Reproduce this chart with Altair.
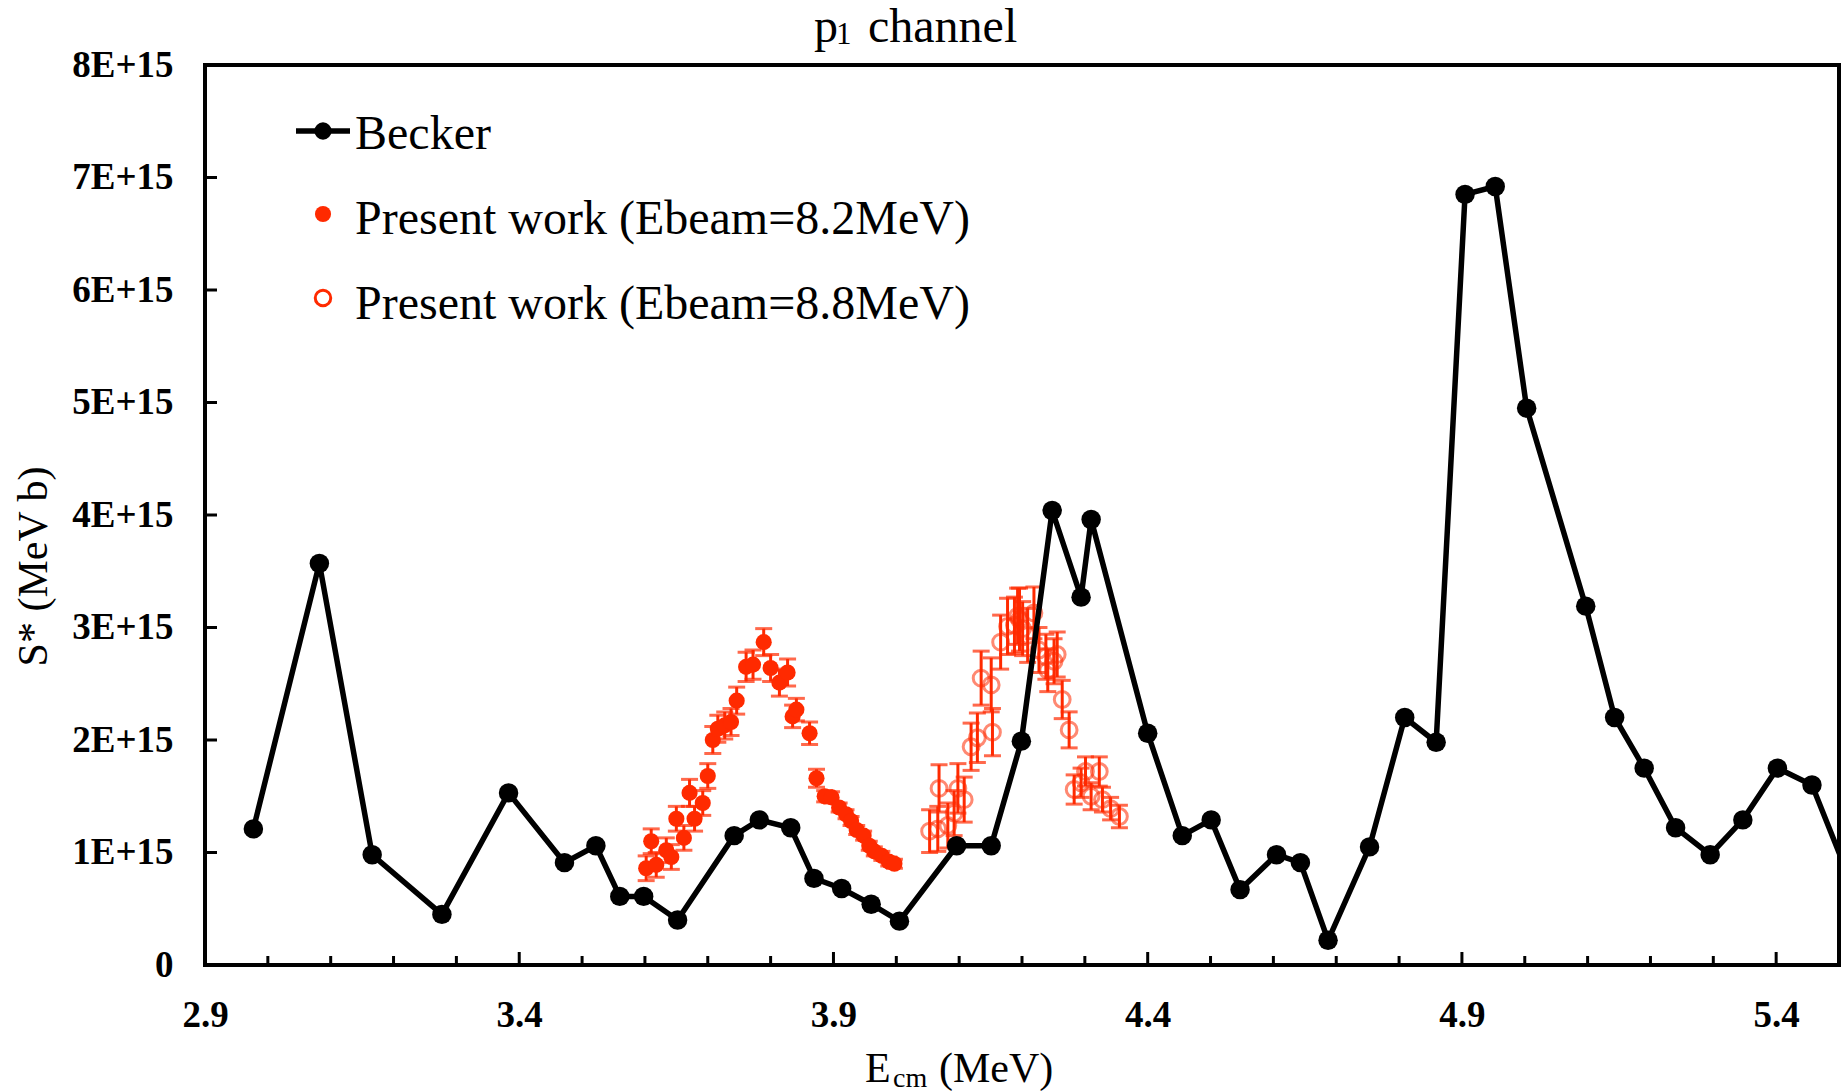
import altair as alt
import pandas as pd

# ---------------- data ----------------
becker_x = [2.977, 3.082, 3.166, 3.277, 3.383, 3.472, 3.522, 3.560, 3.598, 3.652,
            3.742, 3.782, 3.832, 3.869, 3.913, 3.960, 4.005, 4.096, 4.151, 4.199,
            4.248, 4.294, 4.310, 4.400, 4.455, 4.501, 4.547, 4.605, 4.643, 4.687,
            4.753, 4.809, 4.859, 4.905, 4.953, 5.003, 5.097, 5.143, 5.190, 5.240,
            5.295, 5.347, 5.402, 5.457, 5.530]
becker_y = [1.21, 3.57, 0.98, 0.45, 1.53, 0.91, 1.06, 0.61, 0.61, 0.40,
            1.15, 1.29, 1.22, 0.77, 0.68, 0.54, 0.39, 1.06, 1.06, 1.99,
            4.04, 3.27, 3.96, 2.06, 1.15, 1.29, 0.67, 0.98, 0.91, 0.22,
            1.05, 2.20, 1.98, 6.85, 6.92, 4.95, 3.19, 2.20, 1.75, 1.22,
            0.98, 1.29, 1.75, 1.60, 0.58]

w82_x = [3.602, 3.610, 3.618, 3.634, 3.642, 3.650, 3.662, 3.671, 3.679, 3.692,
         3.700, 3.708, 3.716, 3.727, 3.737, 3.746, 3.761, 3.772, 3.789, 3.800,
         3.814, 3.827, 3.835, 3.841, 3.862, 3.873, 3.886, 3.897, 3.909, 3.920,
         3.928, 3.937, 3.948, 3.957, 3.965, 3.977, 3.988, 3.997]
w82_y = [0.86, 1.10, 0.89, 1.02, 0.96, 1.30, 1.13, 1.53, 1.30, 1.44,
         1.68, 2.00, 2.10, 2.13, 2.16, 2.35, 2.65, 2.67, 2.87, 2.64,
         2.51, 2.60, 2.21, 2.27, 2.06, 1.66, 1.50, 1.49, 1.40, 1.34,
         1.28, 1.20, 1.15, 1.06, 1.01, 0.97, 0.92, 0.90]
w82_err = [0.11, 0.11, 0.11, 0.11, 0.11, 0.11, 0.11, 0.12, 0.11, 0.11,
           0.11, 0.12, 0.12, 0.12, 0.12, 0.12, 0.13, 0.13, 0.12, 0.12,
           0.12, 0.12, 0.10, 0.10, 0.10, 0.08, 0.05, 0.05, 0.04, 0.04,
           0.04, 0.04, 0.04, 0.04, 0.04, 0.04, 0.04, 0.04]

w88_x = [4.053, 4.066, 4.068, 4.082, 4.092, 4.098, 4.108, 4.119, 4.129, 4.135,
         4.151, 4.153, 4.166, 4.177, 4.188, 4.193, 4.196, 4.201, 4.209, 4.219,
         4.227, 4.238, 4.241, 4.251, 4.256, 4.264, 4.275, 4.283, 4.294, 4.301,
         4.310, 4.323, 4.328, 4.341, 4.355]
w88_y = [1.19, 1.21, 1.57, 1.24, 1.35, 1.57, 1.47, 1.94, 2.02, 2.55,
         2.49, 2.07, 2.87, 3.01, 3.02, 3.10, 3.07, 2.99, 2.93, 3.13,
         2.80, 2.74, 2.62, 2.70, 2.76, 2.36, 2.09, 1.56, 1.62, 1.72,
         1.50, 1.72, 1.47, 1.39, 1.32]
w88_err = [0.19, 0.20, 0.21, 0.20, 0.20, 0.22, 0.20, 0.21, 0.22, 0.24,
           0.24, 0.21, 0.24, 0.25, 0.25, 0.25, 0.28, 0.24, 0.24, 0.23,
           0.20, 0.20, 0.19, 0.20, 0.20, 0.17, 0.16, 0.13, 0.13, 0.13,
           0.12, 0.13, 0.11, 0.10, 0.10]

x_major_ticks = [2.9, 3.4, 3.9, 4.4, 4.9, 5.4]
x_minor_ticks = [3.0, 3.1, 3.2, 3.3, 3.5, 3.6, 3.7, 3.8, 4.0, 4.1, 4.2, 4.3,
                 4.5, 4.6, 4.7, 4.8, 5.0, 5.1, 5.2, 5.3]
y_major_ticks = [0, 1, 2, 3, 4, 5, 6, 7, 8]

legend_labels = ["Becker", "Present work (Ebeam=8.2MeV)", "Present work (Ebeam=8.8MeV)"]
title_parts = ["p", "1", "channel"]
xtitle_parts = ["E", "cm", "(MeV)"]
ytitle = "S* (MeV b)"

# ---------------- style ----------------
W, H = 1634, 900
RED = "#ff2a00"
SERIF = "Liberation Serif"

xscale = alt.Scale(domain=[2.9, 5.5], nice=False, zero=False)
yscale = alt.Scale(domain=[0, 8], nice=False, zero=True)
xaxis = alt.Axis(values=x_major_ticks, format=".1f", labelFont=SERIF, labelFontSize=37,
                 labelFontWeight="bold", labelColor="black", labelPadding=32,
                 labelFlush=False, ticks=False, domain=False, grid=False, title=None)
yaxis = alt.Axis(values=y_major_ticks,
                 labelExpr="datum.value == 0 ? '0' : datum.value + 'E+15'",
                 labelFont=SERIF, labelFontSize=37, labelFontWeight="bold",
                 labelColor="black", labelPadding=32, labelFlush=False,
                 ticks=False, domain=False, grid=False,
                 title=ytitle, titleFont=SERIF, titleFontSize=42, titleFontWeight="normal",
                 titleColor="black", titleAngle=270, titleX=-172, titleY=501,
                 titleAlign="center", titleBaseline="middle")


def X(f):
    return alt.X(f, type="quantitative", scale=xscale, axis=xaxis)


def Y(f):
    return alt.Y(f, type="quantitative", scale=yscale, axis=yaxis)


becker = pd.DataFrame({"x": becker_x, "y": becker_y})
d82 = pd.DataFrame({"x": w82_x, "y": w82_y, "e": w82_err})
d82["lo"] = d82["y"] - d82["e"]
d82["hi"] = d82["y"] + d82["e"]
d88 = pd.DataFrame({"x": w88_x, "y": w88_y, "e": w88_err})
d88["lo"] = d88["y"] - d88["e"]
d88["hi"] = d88["y"] + d88["e"]

layers = []

# error bars and points of present work
for d in (d82, d88):
    base = alt.Chart(d)
    layers.append(base.mark_rule(color=RED, strokeWidth=3).encode(x=X("x"), y=Y("lo"), y2="hi"))
    layers.append(base.mark_tick(color=RED, orient="horizontal", size=17, thickness=3)
                  .encode(x=X("x"), y=Y("lo")))
    layers.append(base.mark_tick(color=RED, orient="horizontal", size=17, thickness=3)
                  .encode(x=X("x"), y=Y("hi")))

layers.append(alt.Chart(d82).mark_circle(color=RED, size=260, opacity=1)
              .encode(x=X("x"), y=Y("y")))
layers.append(alt.Chart(d88).mark_point(shape="circle", filled=False, color=RED, size=250,
                                        strokeWidth=3, opacity=0.55)
              .encode(x=X("x"), y=Y("y")))

# Becker
layers.append(alt.Chart(becker).mark_line(color="black", strokeWidth=5.5, clip=True)
              .encode(x=X("x"), y=Y("y")))
layers.append(alt.Chart(becker).mark_circle(color="black", size=380, opacity=1, clip=True)
              .encode(x=X("x"), y=Y("y")))

# inward ticks
tx_major = pd.DataFrame({"v": x_major_ticks})
tx_minor = pd.DataFrame({"v": x_minor_ticks})
ty_major = pd.DataFrame({"v": y_major_ticks})
layers.append(alt.Chart(tx_major).mark_rule(color="black", strokeWidth=3)
              .encode(x=X("v"), y=alt.value(H), y2=alt.value(H - 13)))
layers.append(alt.Chart(tx_minor).mark_rule(color="black", strokeWidth=3)
              .encode(x=X("v"), y=alt.value(H), y2=alt.value(H - 9)))
layers.append(alt.Chart(ty_major).mark_rule(color="black", strokeWidth=3)
              .encode(y=Y("v"), x=alt.value(0), x2=alt.value(12)))


def text_layer(txt, px, py, size, weight="normal"):
    return alt.Chart(pd.DataFrame({"t": [txt]})).mark_text(
        font=SERIF, fontSize=size, fontWeight=weight, color="black",
        align="left", baseline="alphabetic"
    ).encode(text="t:N", x=alt.value(px), y=alt.value(py))


# legend
leg = pd.DataFrame({"t": legend_labels})
layers.append(alt.Chart(leg.iloc[[0]]).mark_rule(color="black", strokeWidth=5.5)
              .encode(x=alt.value(91), x2=alt.value(145), y=alt.value(66)))
layers.append(alt.Chart(leg.iloc[[0]]).mark_circle(color="black", size=300, opacity=1)
              .encode(x=alt.value(118), y=alt.value(66)))
layers.append(alt.Chart(leg.iloc[[1]]).mark_circle(color=RED, size=260, opacity=1)
              .encode(x=alt.value(118), y=alt.value(149)))
layers.append(alt.Chart(leg.iloc[[2]]).mark_point(shape="circle", filled=False, color=RED,
                                                  size=240, strokeWidth=3, opacity=1)
              .encode(x=alt.value(118), y=alt.value(233)))
for i, by in enumerate([84, 169, 254]):
    layers.append(text_layer(legend_labels[i], 150, by, 48))

# title  p_1 channel
layers.append(text_layer(title_parts[0], 609, -23, 48))
layers.append(text_layer(title_parts[1], 631, -21, 31))
layers.append(text_layer(title_parts[2], 663, -23, 48))

# x title  E_cm (MeV)
layers.append(text_layer(xtitle_parts[0], 660, 1017, 42))
layers.append(text_layer(xtitle_parts[1], 688, 1022, 28))
layers.append(text_layer(xtitle_parts[2], 734, 1017, 42))

chart = alt.layer(*layers).properties(
    width=W, height=H,
    autosize=alt.AutoSizeParams(type="none"),
    padding={"left": 205, "top": 65, "right": 6, "bottom": 127},
    background="white",
).configure_view(stroke="black", strokeWidth=4)

chart.save("out.html", embed_options={"renderer": "svg", "actions": False})
